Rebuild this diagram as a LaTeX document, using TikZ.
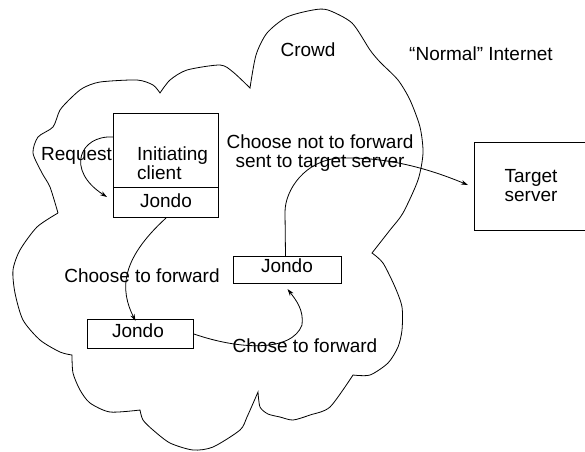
\documentclass[tikz,border=0pt]{standalone}
\usepackage{fontspec}
\setmainfont{Liberation Sans}
\usetikzlibrary{arrows.meta}

\begin{document}
\begin{tikzpicture}[x=1pt,y=-1pt,
  every node/.style={font=\fontsize{19}{19}\selectfont},
  box/.style={draw, line width=1pt, inner sep=0pt},
  txt/.style={inner sep=0pt, align=center},
  conn/.style={line width=0.8pt, -{Stealth[length=7pt,width=4.5pt]}},
  cloud/.style={line width=0.8pt}]
\useasboundingbox (0,0) rectangle (585,451);

% the crowd outline, one smooth lobe between each pair of cusps
\draw[cloud] plot[smooth,tension=0.45] coordinates {(58,213) (50,187) (42,173) (33,153) (38,137) (53,127) (60,110) (72,97) (83,88) (100,82) (137,80) (153,85) (160,93)}
  -- plot[smooth,tension=0.45] coordinates {(160,93) (170,80) (187,70) (220,65) (233,72) (250,88)}
  -- plot[smooth,tension=0.45] coordinates {(250,88) (256,55) (267,33) (287,17) (313,10) (328,10) (352,23) (370,50) (380,62) (398,80) (410,100) (420,127) (423,153) (418,180) (403,213) (390,230) (372,253)}
  -- plot[smooth,tension=0.45] coordinates {(372,253) (383,263) (395,287) (402,307) (402,330) (398,347) (388,363) (370,375) (353,375)}
  -- plot[smooth,tension=0.45] coordinates {(353,375) (330,407) (310,415) (293,420) (280,417) (268,414) (260,407) (258,392)}
  -- plot[smooth,tension=0.45] coordinates {(258,392) (247,417) (240,430) (213,447) (193,450) (170,443) (153,430) (143,420) (140,410)}
  -- plot[smooth,tension=0.45] coordinates {(140,410) (110,412) (90,403) (80,390) (73,373) (72,355)}
  -- plot[smooth,tension=0.45] coordinates {(72,355) (60,352) (40,340) (23,320) (15,293) (13,270) (20,250) (37,227) (58,213)};

% boxes (two-line texts are placed by the baseline of their last line)
\node[box, anchor=north west, minimum width=105pt, minimum height=74pt] (init) at (113,113) {};
\node[txt, align=left, anchor=base west] (inittxt) at (137,179) {Initiating\\client};
\node[box, anchor=north west, minimum width=105pt, minimum height=30pt] (jondoA) at (113,187) {};
\node[txt, anchor=base] (jondoAtxt) at (166,207) {Jondo};
\node[box, anchor=north west, minimum width=106pt, minimum height=29pt] (jondoB) at (87,319) {};
\node[txt, anchor=base] (jondoBtxt) at (138,337) {Jondo};
\node[box, anchor=north west, minimum width=108pt, minimum height=27pt] (jondoC) at (233,256) {};
\node[txt, anchor=base] (jondoCtxt) at (287,272) {Jondo};
\node[box, anchor=north west, minimum width=111pt, minimum height=88pt] (target) at (474,142) {};
\node[txt, anchor=base] (targettxt) at (531,201) {Target\\server};

% labels
\node[txt, anchor=base] (crowd) at (308,56) {Crowd};
\node[txt, anchor=base] (internet) at (481,60) {“Normal” Internet};
\node[txt, anchor=base west] (request) at (41,160) {Request};
\node[txt, anchor=base] (notfwd) at (320,167) {Choose not to forward\\sent to target server};
\node[txt, anchor=base] (fwd1) at (142,282) {Choose to forward};
\node[txt, anchor=base] (fwd2) at (305,352) {Chose to forward};

% connectors
\draw[conn] ([yshift=-24pt]init.north west) .. controls (80,135) and (65,170) .. ([xshift=-6pt,yshift=-10pt]jondoA.north west);
\draw[conn] (jondoA.south) .. controls (120,260) and (120,290) .. ([xshift=-5pt,yshift=-2pt]jondoB.north);
\draw[conn] (jondoB.east) .. controls (240,350) and (292,352) .. (302,325)
  .. controls (304,310) and (296,300) .. ([yshift=-5pt]jondoC.south);
\draw[conn] ([xshift=-2pt]jondoC.north) -- (285,212) .. controls (285,190) and (305,160) .. (340,158)
  .. controls (380,157) and (420,165) .. ([xshift=-6pt,yshift=-43pt]target.north west);
\end{tikzpicture}
\end{document}
